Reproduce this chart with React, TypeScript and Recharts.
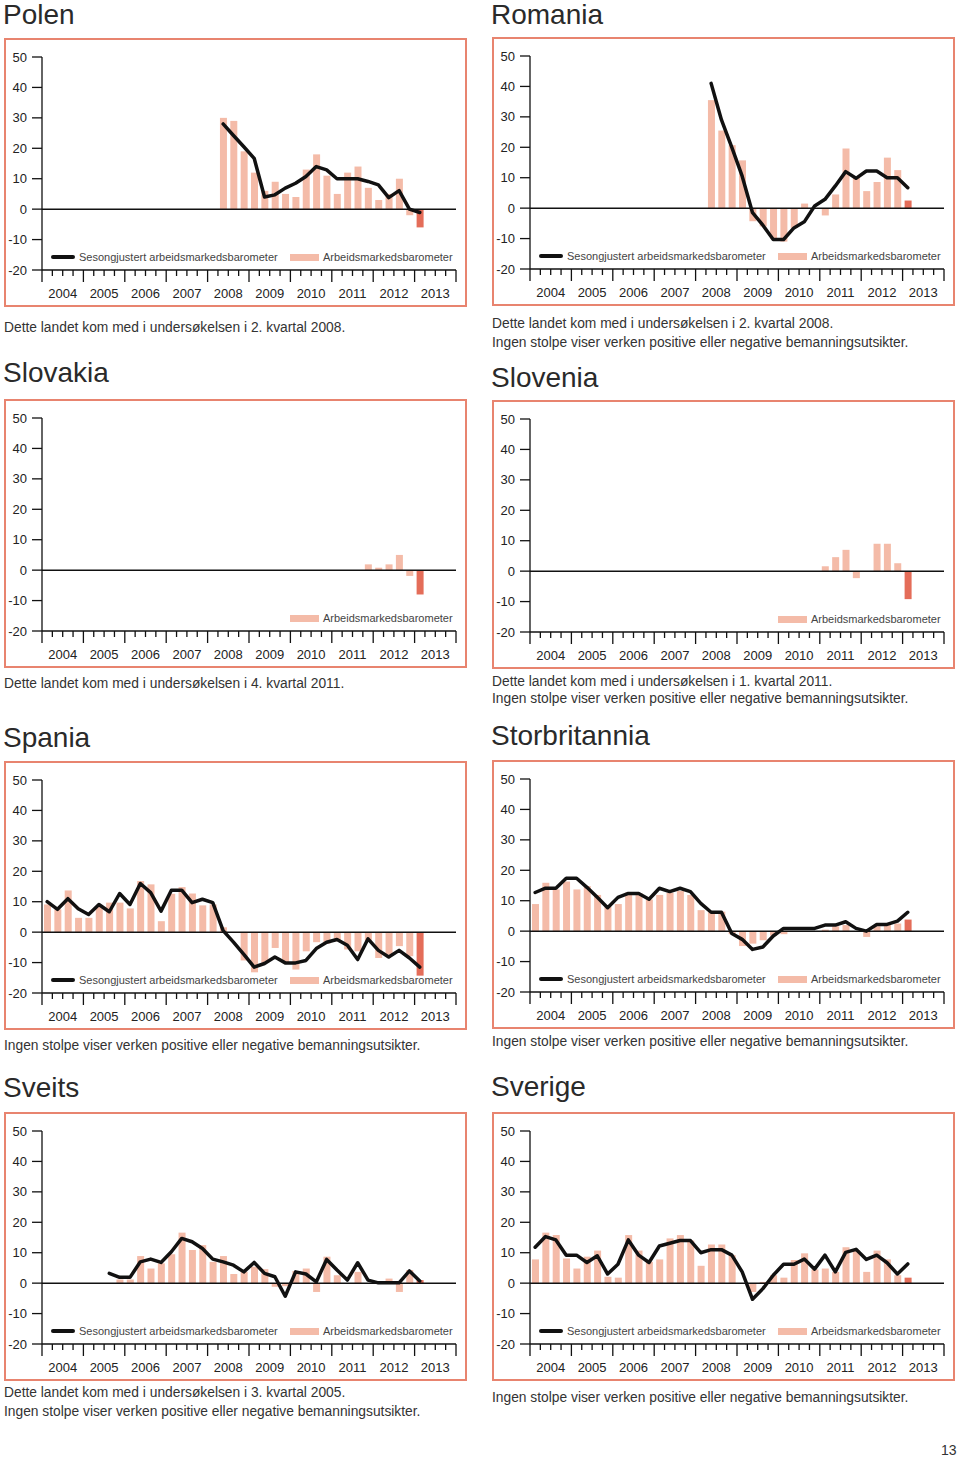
import { Bar, Cell, ComposedChart, Line, ReferenceLine, XAxis, YAxis } from "recharts";

const FONT = '"Liberation Sans", Arial, Helvetica, sans-serif';
const PINK = "#f4bba8";
const DARK = "#e46d59";
const FRAME = "#e8846f";
const INK = "#111";

const YEARS = [2004, 2005, 2006, 2007, 2008, 2009, 2010, 2011, 2012, 2013];
const QUARTERS = YEARS.flatMap((y) => [1, 2, 3, 4].map((q) => `${q}. kv ${y}`));
const Y_TICKS = [-20, -10, 0, 10, 20, 30, 40, 50];

const LINE_LABEL = "Sesongjustert arbeidsmarkedsbarometer";
const BAR_LABEL = "Arbeidsmarkedsbarometer";
const NO_BARS = "Ingen stolpe viser verken positive eller negative bemanningsutsikter.";

// Polen, fra 2. kvartal 2008
const polenFrom = [2008, 2];
const polenBars = [30, 29, 19, 12, 6, 9, 5, 4, 13, 18, 11, 5, 12, 14, 7, 3, 5, 10, -2, -6];
const polenLine = [28, 24.2, 20.5, 16.7, 4, 4.7, 6.9, 8.5, 10.7, 14, 12.9, 10, 10, 10, 9.1, 8, 3.8, 6.1, 0, -1.1];

// Romania, fra 2. kvartal 2008
const romaniaFrom = [2008, 2];
const romaniaBars = [35.5, 25.5, 20.7, 15.7, -4.3, -6, -10, -11, -6.5, 1.5, 0, -2.4, 4.5, 19.6, 10, 5.6, 8.6, 16.6, 12.5, 2.5];
const romaniaLine = [41, 29, 20, 10.5, -1.5, -5.6, -10.3, -10.3, -6.5, -4.5, 0.7, 2.9, 7.3, 12, 9.8, 12.2, 12.2, 10, 10, 6.7];

// Slovakia, fra 4. kvartal 2011
const slovakiaFrom = [2011, 4];
const slovakiaBars = [1.9, 0.8, 1.9, 5, -1.9, -8];

// Slovenia, fra 1. kvartal 2011
const sloveniaFrom = [2011, 1];
const sloveniaBars = [1.6, 4.6, 7, -2.3, 0, 9, 9, 2.6, -9.2];

// Spania
const spaniaFrom = [2004, 1];
const spaniaBars = [
  9.1, 7.5, 13.7, 4.7, 4.7, 8.6, 9.7, 9.7, 7.8, 16.8, 15.7, 3.6, 12.6, 14.8, 12.7, 8.8,
  9.1, 1.6, 0, -9.3, -13.2, -10.1, -5.2, -10.1, -12.3, -6.3, -3.3, -3.8, -3, -5.7, -6.3, -3,
  -8.5, -7.4, -4.6, -7.9, -14.3,
];
const spaniaLine = [
  10, 7.5, 11, 7.7, 5.8, 9.1, 6.7, 12.7, 9.1, 16, 13, 6.9, 13.8, 13.8, 9.7, 10.8,
  9.7, 0.5, -3.3, -7.3, -11.5, -10.3, -8.2, -10.1, -10.1, -9.3, -5.4, -3.3, -2.4, -4.3, -9, -2.2,
  -6, -8.2, -6, -8.5, -11.5,
];

// Storbritannia
const ukFrom = [2004, 1];
const ukBars = [
  8.9, 15.9, 13.7, 16.3, 13.7, 14.8, 11.9, 8, 8.9, 12.7, 12.4, 10.4, 11.9, 12.6, 13.2, 11.9,
  6.9, 6.2, 6.4, -1, -4.9, -4.1, -3, -1.5, -1, 0, 0, 0, 0.5, 1.6, 2, 0,
  -1.9, 1.6, 2, 2.5, 3.8,
];
const ukLine = [
  12.7, 14.1, 14.1, 17.4, 17.4, 14.4, 11.1, 7.7, 11.1, 12.4, 12.4, 10.5, 14.1, 13, 14.1, 13,
  9.1, 6.2, 6.2, -0.8, -2.7, -6, -5.2, -1.6, 0.9, 0.9, 0.9, 0.9, 2, 2, 3.1, 0.9,
  0, 2.2, 2.2, 3.3, 6.2,
];

// Sveits, fra 3. kvartal 2005
const sveitsFrom = [2005, 3];
const sveitsBars = [
  0, 1.2, 1.2, 8.9, 4.8, 6.5, 9.5, 16.6, 10.9, 12.5, 7, 8.9, 3, 3.7, 5.4, 4.6,
  -1.2, -1, 4, 4.8, -2.9, 8.7, 2.6, 0, 3.7, 0, 0, 1.5, -2.9, 4.3, 1,
];
const sveitsLine = [
  3.2, 1.9, 1.9, 7, 7.9, 6.8, 10.3, 14.7, 13.6, 11.4, 7.9, 7, 5.9, 3.7, 6.8, 3.2,
  2.1, -4.3, 3.7, 3, 0.4, 7.8, 4.3, 1, 6.7, 1, 0.1, 0.1, 0.1, 4, 0.7,
];

// Sverige
const sverigeFrom = [2004, 1];
const sverigeBars = [
  7.8, 16.6, 15.8, 8.1, 4.8, 8.7, 10.7, 2.1, 1.8, 15.8, 10.7, 7, 7.8, 14.7, 15.8, 14,
  5.7, 12.7, 12.7, 9.2, 0, -2.9, 0.4, 2.6, 1.8, 7.6, 9.8, 4.5, 4.8, 3.7, 11.8, 10.9,
  3.7, 10.7, 7.8, 2.6, 1.8,
];
const sverigeLine = [
  11.8, 15.3, 14.2, 9.2, 9.2, 6.8, 9, 3, 6.2, 14.2, 9.2, 6.8, 12.2, 13.1, 14, 14,
  10, 11, 11, 9.2, 3.7, -5.3, -1.8, 2.6, 6.2, 6.2, 7.9, 4.6, 9.2, 3.7, 10.1, 11.1,
  7.8, 9.2, 6.7, 3, 6.3,
];

const BOX_W = 463;
const BOX_H = 269;
const CHART_W = BOX_W - 4;
const CHART_H = BOX_H - 4;
const MARGIN = { top: 17, right: 9, bottom: 0, left: 0 };
const Y_AXIS_W = 36;
const X_AXIS_H = 35;
const BAND = (CHART_W - Y_AXIS_W - MARGIN.right) / QUARTERS.length;

type Row = { q: string; bar: number | null; line: number | null };

function buildRows(from: number[], bars: number[], line?: number[]): Row[] {
  const offset = (from[0] - YEARS[0]) * 4 + from[1] - 1;
  return QUARTERS.map((q, i) => {
    const k = i - offset;
    const inside = k >= 0 && k < bars.length;
    return {
      q,
      bar: inside ? bars[k] : null,
      line: line && k >= 0 && k < line.length ? line[k] : null,
    };
  });
}

function QuarterTick(props: any) {
  const { x, y, index } = props;
  const left = x - BAND / 2;
  const major = index % 4 === 0;
  return (
    <g>
      <line x1={left} x2={left} y1={y} y2={y + (major ? 12 : 6)} stroke={INK} strokeWidth={1.3} />
      {index === QUARTERS.length - 1 && (
        <line x1={x + BAND / 2} x2={x + BAND / 2} y1={y} y2={y + 12} stroke={INK} strokeWidth={1.3} />
      )}
      {index % 4 === 2 && (
        <text x={left} y={y + 28} textAnchor="middle" fontSize={13} fill="#222" fontFamily={FONT}>
          {YEARS[Math.floor(index / 4)]}
        </text>
      )}
    </g>
  );
}

function Legend({ withLine }: { withLine: boolean }) {
  const text = { position: "absolute" as const, top: 210, fontSize: 11, color: "#444", lineHeight: "14px", whiteSpace: "nowrap" as const };
  return (
    <>
      {withLine && (
        <>
          <div style={{ position: "absolute", left: 45, top: 215, width: 24, height: 4, background: INK, borderRadius: 2 }} />
          <div style={{ ...text, left: 73 }}>{LINE_LABEL}</div>
        </>
      )}
      <div style={{ position: "absolute", left: 284, top: 214, width: 29, height: 7, background: PINK }} />
      <div style={{ ...text, left: 317 }}>{BAR_LABEL}</div>
    </>
  );
}

function Panel(props: {
  left: number;
  top: number;
  title: string;
  titleBase: number;
  notes: [string, number][];
  rows: Row[];
  withLine: boolean;
}) {
  const { left, top, title, titleBase, notes, rows, withLine } = props;
  const last = rows.reduce((acc, r, i) => (r.bar !== null ? i : acc), -1);
  return (
    <>
      <div style={{ position: "absolute", left: left - 1, top: titleBase - 24, fontSize: 28, lineHeight: "28px", color: "#2a2a2a", whiteSpace: "nowrap" }}>
        {title}
      </div>
      <div style={{ position: "absolute", left, top, width: BOX_W, height: BOX_H, border: `2px solid ${FRAME}`, boxSizing: "border-box" }}>
        <ComposedChart width={CHART_W} height={CHART_H} data={rows} margin={MARGIN}>
          <XAxis
            dataKey="q"
            type="category"
            height={X_AXIS_H}
            interval={0}
            tickSize={0}
            tickMargin={0}
            tickLine={false}
            axisLine={{ stroke: INK, strokeWidth: 1.3 }}
            tick={<QuarterTick />}
          />
          <YAxis
            type="number"
            domain={[-20, 50]}
            ticks={Y_TICKS}
            interval={0}
            width={Y_AXIS_W}
            tickSize={10}
            tickMargin={5}
            axisLine={{ stroke: INK, strokeWidth: 1.3 }}
            tickLine={{ stroke: INK, strokeWidth: 1.3 }}
            tick={{ fontSize: 13, fill: "#222", fontFamily: FONT }}
          />
          <ReferenceLine y={0} stroke={INK} strokeWidth={1.5} />
          <Bar dataKey="bar" barSize={7} isAnimationActive={false}>
            {rows.map((r, i) => (
              <Cell key={r.q} fill={i === last ? DARK : PINK} />
            ))}
          </Bar>
          {withLine && (
            <Line
              dataKey="line"
              type="linear"
              stroke={INK}
              strokeWidth={3.5}
              strokeLinejoin="round"
              strokeLinecap="round"
              dot={false}
              activeDot={false}
              isAnimationActive={false}
            />
          )}
        </ComposedChart>
        <Legend withLine={withLine} />
      </div>
      {notes.map(([t, base]) => (
        <div key={t} style={{ position: "absolute", left, top: base - 12, fontSize: 13.8, lineHeight: "14px", color: "#333", whiteSpace: "nowrap" }}>
          {t}
        </div>
      ))}
    </>
  );
}

const joined = (q: number, y: number) => `Dette landet kom med i undersøkelsen i ${q}. kvartal ${y}.`;

export default function App() {
  return (
    <div style={{ position: "absolute", left: 0, top: 0, width: 960, height: 1457, background: "#fff", fontFamily: FONT }}>
      <Panel left={4} top={38} title="Polen" titleBase={25} notes={[[joined(2, 2008), 333]]}
        rows={buildRows(polenFrom, polenBars, polenLine)} withLine />
      <Panel left={492} top={37} title="Romania" titleBase={25} notes={[[joined(2, 2008), 329], [NO_BARS, 348]]}
        rows={buildRows(romaniaFrom, romaniaBars, romaniaLine)} withLine />
      <Panel left={4} top={399} title="Slovakia" titleBase={383} notes={[[joined(4, 2011), 689]]}
        rows={buildRows(slovakiaFrom, slovakiaBars)} withLine={false} />
      <Panel left={492} top={400} title="Slovenia" titleBase={388} notes={[[joined(1, 2011), 687], [NO_BARS, 704]]}
        rows={buildRows(sloveniaFrom, sloveniaBars)} withLine={false} />
      <Panel left={4} top={761} title="Spania" titleBase={748} notes={[[NO_BARS, 1051]]}
        rows={buildRows(spaniaFrom, spaniaBars, spaniaLine)} withLine />
      <Panel left={492} top={760} title="Storbritannia" titleBase={746} notes={[[NO_BARS, 1047]]}
        rows={buildRows(ukFrom, ukBars, ukLine)} withLine />
      <Panel left={4} top={1112} title="Sveits" titleBase={1098} notes={[[joined(3, 2005), 1398], [NO_BARS, 1417]]}
        rows={buildRows(sveitsFrom, sveitsBars, sveitsLine)} withLine />
      <Panel left={492} top={1112} title="Sverige" titleBase={1097} notes={[[NO_BARS, 1403]]}
        rows={buildRows(sverigeFrom, sverigeBars, sverigeLine)} withLine />
      <div style={{ position: "absolute", left: 941, top: 1443, fontSize: 14, lineHeight: "14px", color: "#333" }}>13</div>
    </div>
  );
}
